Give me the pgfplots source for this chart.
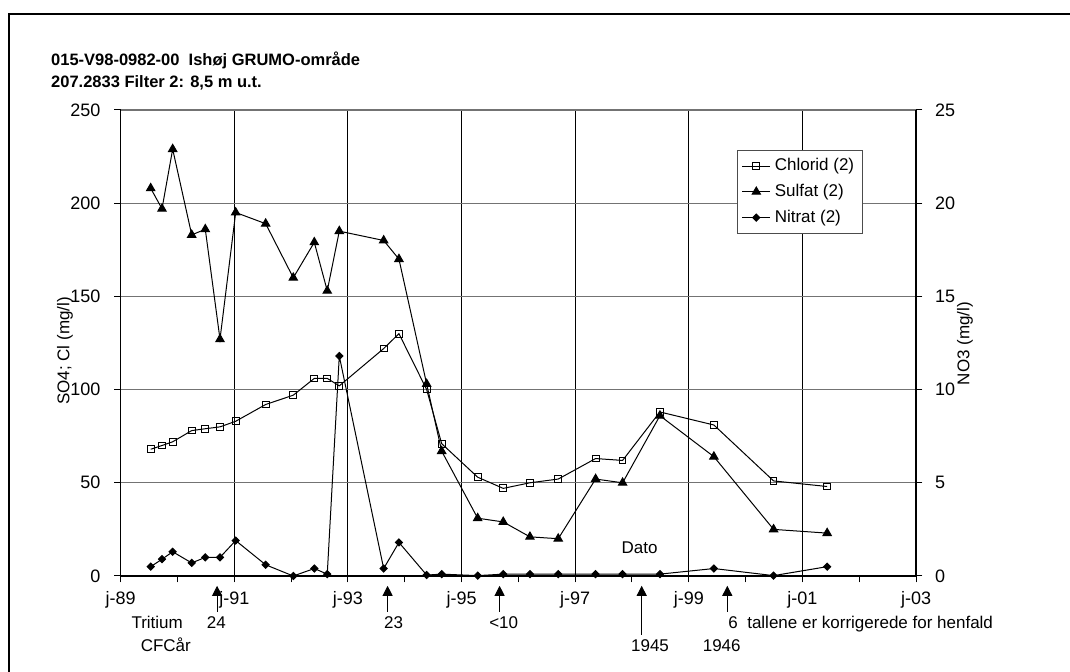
\documentclass[border=0pt]{standalone}
\usepackage{pgfplots}
\pgfplotsset{compat=1.18}
\usepackage{fontspec}
\setmainfont{Liberation Sans}
\usetikzlibrary{arrows.meta}
\newcommand\fs{\fontsize{8.5}{10}\selectfont}
\newcommand\tfs{\fontsize{9}{10}\selectfont}

\pgfplotstableread{
x        cl    so    no
1989.528 68   208   0.5
1989.727 70   197   0.9
1989.915 72   229   1.3
1990.250 78   183   0.7
1990.489 79   186   1.0
1990.748 80   127   1.0
1991.024 83   195   1.9
1991.552 92   189   0.6
1992.038 97   160   0.0
1992.408 106  179   0.4
1992.636 106  153   0.1
1992.848 102  185   11.8
1993.629 122  180   0.4
1993.898 130  170   1.8
1994.386 100  103   0.05
1994.650 71   67    0.1
1995.284 53   31    0.02
1995.734 47   29    0.1
1996.204 50   21    0.1
1996.702 52   20    0.1
1997.360 63   52    0.1
1997.835 62   50    0.1
1998.492 88   86    0.1
1999.442 81   64    0.4
2000.493 51   25    0.02
2001.436 48   23    0.5
}\data

\begin{document}
\begin{tikzpicture}[x=1pt,y=1pt]
\path (0,0) rectangle (535,336);
\draw[line width=1pt, line join=miter] (4.3,-2) -- (4.3,329.1) -- (540,329.1);

\node[anchor=base west, font=\fontsize{8.25}{10}\selectfont\bfseries] at (22.05,303.3) {015-V98-0982-00\ \ Ishøj GRUMO-område};
\node[anchor=base west, font=\fontsize{8.25}{10}\selectfont\bfseries] at (22.05,292.1) {207.2833 Filter 2: 8,5 m u.t.};

\begin{axis}[
  at={(60.35pt,48pt)}, anchor=south west,
  scale only axis, width=397.65pt, height=233pt,
  xmin=1989, xmax=2003, ymin=0, ymax=250,
  axis x line*=bottom, axis y line*=left,
  axis line style={line width=0.6pt, black},
  tick align=outside,
  major tick length=3.2pt, minor tick length=3.2pt,
  tick style={black, line width=0.5pt},
  xtick={1989,1991,...,2003},
  xticklabels={j-89,j-91,j-93,j-95,j-97,j-99,j-01,j-03},
  minor xtick={1990,1992,...,2002},
  ytick={0,50,...,250},
  xmajorgrids, ymajorgrids,
  x grid style={black, line width=0.5pt},
  y grid style={black!55, line width=0.6pt},
  /pgf/number format/assume math mode=true,
  xticklabel style={font=\tfs, anchor=base, yshift=-11pt, inner sep=0pt},
  yticklabel style={font=\tfs, anchor=east, inner sep=0pt, xshift=-6.8pt},
  legend style={at={(0.7753,0.9142)}, anchor=north west, font=\fs,
    draw=black!70, line width=0.5pt, row sep=1.2pt, inner xsep=2pt, inner ysep=2pt,
    cells={anchor=west}},
  legend image code/.code={\draw[mark repeat=2, mark phase=2] plot coordinates {(0pt,0pt)(7pt,0pt)(14pt,0pt)};},
  clip=false,
]
\addplot[black, line width=0.5pt, mark=square, mark size=1.7pt, mark options={fill=white, solid, line width=0.5pt}] table[x=x, y=cl] {\data};
\addlegendentry{Chlorid (2)}
\addplot[black, line width=0.5pt, mark=triangle*, mark size=2.4pt, mark options={solid}] table[x=x, y=so] {\data};
\addlegendentry{Sulfat (2)}
\addlegendimage{black, line width=0.5pt, mark=square*, mark size=1.25pt, mark options={rotate=45, solid}}
\addlegendentry{Nitrat (2)}
\end{axis}

\begin{axis}[
  at={(60.35pt,48pt)}, anchor=south west,
  scale only axis, width=397.65pt, height=233pt,
  xmin=1989, xmax=2003, ymin=0, ymax=25,
  axis x line=none, axis y line*=right,
  axis line style={line width=0.6pt, black},
  tick align=outside, major tick length=3.2pt,
  tick style={black, line width=0.5pt},
  ytick={0,5,...,25},
  /pgf/number format/assume math mode=true,
  yticklabel style={font=\tfs, anchor=west, inner sep=0pt, xshift=6.2pt},
  clip=false,
]
\addplot[black, line width=0.5pt, mark=square*, mark size=1.25pt, mark options={rotate=45, solid}] table[x=x, y=no] {\data};
\end{axis}

\node[rotate=90, font=\fs] at (32.5,160.5) {SO4; Cl (mg/l)};
\node[rotate=90, font=\fs] at (482.5,164.25) {NO3 (mg/l)};
\node[anchor=base, font=\fs] at (319.75,59.35) {Dato};

\foreach \xx/\yb in {108.55/30.15, 193.8/30.15, 249.8/30.15, 320.85/18.5, 363.65/30.15}
  \draw[line width=0.5pt, -{Triangle[width=5pt,length=5pt]}] (\xx,\yb) -- (\xx,43.1);

\node[anchor=base, font=\fs] at (78.6,21.5) {Tritium};
\node[anchor=base, font=\fs] at (82.9,10.25) {CFCår};
\node[anchor=base, font=\fs] at (108.2,21.5) {24};
\node[anchor=base, font=\fs] at (196.75,21.5) {23};
\node[anchor=base, font=\fs] at (251.85,21.5) {<10};
\node[anchor=base, font=\fs] at (325,10.25) {1945};
\node[anchor=base, font=\fs] at (360.85,10.25) {1946};
\node[anchor=base west, font=\fs, inner xsep=0pt] at (364,21.5) {6\ \ tallene er korrigerede for henfald};

\pgfresetboundingbox
\path[use as bounding box] (0,0) rectangle (535,336);
\end{tikzpicture}
\end{document}
